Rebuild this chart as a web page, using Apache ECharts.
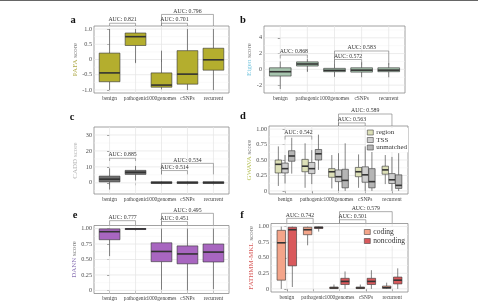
<!DOCTYPE html>
<html>
<head>
<meta charset="utf-8">
<script src="https://cdn.jsdelivr.net/npm/echarts@6/dist/echarts.min.js"></script>
<style>
html, body { margin: 0; padding: 0; background: #fff; }
#chart { width: 478px; height: 305px; }
</style>
</head>
<body>
<div id="chart"></div>
<script>
var categories = ['benign', 'pathogenic', '1000genomes', 'cSNPs', 'recurrent'];

// each row: [min, Q1, median, Q3, max] for one category
var pafaBoxes = [[-1.0, -0.73, -0.44, 0.21, 1.0], [-0.12, 0.46, 0.75, 0.87, 1.0], [-0.98, -0.91, -0.84, -0.44, 0.29], [-1.0, -0.81, -0.48, 0.29, 1.0], [-1.0, -0.35, -0.01, 0.37, 1.0]];
var eigenBoxes = [[-2.5, -0.85, -0.3, 0.2, 1.0], [-0.3, 0.42, 0.68, 0.95, 1.3], [-0.95, -0.3, -0.13, 0.13, 0.64], [-1.0, -0.35, -0.1, 0.2, 0.9], [-1.0, -0.3, -0.1, 0.2, 0.8]];
var caddBoxes = [[-4.2, 0.6, 2.3, 4.2, 9.1], [1.5, 5.3, 6.6, 7.8, 10.6], [-0.5, -0.4, 0.1, 0.7, 1.0], [-0.5, -0.4, 0.1, 0.7, 1.0], [-0.5, -0.4, 0.1, 0.7, 1.0]];
var gwavaRegion = [[0.08, 0.29, 0.43, 0.50, 0.72], [0.05, 0.31, 0.40, 0.51, 0.77], [0.04, 0.22, 0.31, 0.36, 0.58], [0.05, 0.23, 0.31, 0.38, 0.59], [0.11, 0.27, 0.34, 0.40, 0.58]];
var gwavaTss = [[0.12, 0.29, 0.36, 0.45, 0.58], [0.11, 0.28, 0.36, 0.46, 0.66], [0.0, 0.15, 0.23, 0.34, 0.61], [0.0, 0.14, 0.26, 0.39, 0.72], [0.0, 0.12, 0.18, 0.28, 0.55]];
var gwavaUnmatched = [[0.28, 0.48, 0.565, 0.65, 0.86], [0.34, 0.50, 0.60, 0.67, 0.91], [0.0, 0.05, 0.17, 0.35, 0.77], [0.0, 0.05, 0.15, 0.36, 0.74], [0.0, 0.04, 0.09, 0.26, 0.61]];
var dannBoxes = [[0.555, 0.82, 0.95, 0.995, 1.0], [0.97, 0.985, 0.995, 1.0, 1.0], [0.01, 0.465, 0.63, 0.77, 1.0], [0.0, 0.43, 0.59, 0.72, 1.0], [0.02, 0.46, 0.62, 0.75, 1.0]];
var fathmmCoding = [[0.0, 0.14, 0.74, 0.94, 1.0], [0.70, 0.87, 0.95, 0.99, 1.0], [0.0, 0.005, 0.015, 0.03, 0.07], [0.0, 0.005, 0.015, 0.03, 0.07], [0.0, 0.01, 0.02, 0.045, 0.1]];
var fathmmNoncoding = [[0.03, 0.37, 0.95, 0.99, 1.0], [0.92, 0.97, 0.985, 0.995, 1.0], [0.0, 0.07, 0.12, 0.17, 0.28], [0.0, 0.07, 0.12, 0.17, 0.30], [0.0, 0.08, 0.14, 0.19, 0.33]];

// AUC comparisons: category pairs, then the value per panel
var aucPairs = [[0, 1], [2, 4], [2, 3]];
var aucA = [0.821, 0.796, 0.701];
var aucB = [0.868, 0.583, 0.572];
var aucC = [0.885, 0.534, 0.514];
var aucD = [0.542, 0.589, 0.563];
var aucE = [0.777, 0.495, 0.451];
var aucF = [0.742, 0.579, 0.501];

var unitTicks = [0, 0.25, 0.5, 0.75, 1];
var unitMinor = [0.125, 0.375, 0.625, 0.875];

var FONT = 'Liberation Serif';
var INK = '#333';

var panels = [
    { letter: 'a', lx: 73, ly: 20, grid: { left: 94, top: 26, width: 135, height: 67 },
      min: -1.1, max: 1.1, ticks: [-1, -0.5, 0, 0.5, 1], minor: [-0.75, -0.25, 0.25, 0.75], dec: 1,
      name: 'PAFA', nameColor: '#b0ab4c', nameGap: 14,
      groups: [{ name: 'PAFA', rows: pafaBoxes, color: '#b4ae2e' }],
      auc: aucA, lineY: [1.19, 1.48, 1.19], footY: [1.1, 1.1, 1.1] },
    { letter: 'b', lx: 243, ly: 20, grid: { left: 264, top: 26, width: 141, height: 67 },
      min: -3, max: 5.5, ticks: [-2, 0, 2, 4], minor: [-1, 1, 3, 5], dec: 0,
      name: 'Eigen', nameColor: '#7cc8e0', nameGap: 9,
      groups: [{ name: 'Eigen', rows: eigenBoxes, color: '#a6c4ae' }],
      auc: aucB, lineY: [1.82, 2.33, 1.25], footY: [1.38, 0.55, 0.55] },
    { letter: 'c', lx: 72, ly: 117, grid: { left: 94, top: 127, width: 135, height: 67 },
      min: -7, max: 35, ticks: [0, 10, 20, 30], minor: [-5, 5, 15, 25], dec: 0,
      name: 'CADD', nameColor: '#b5b5b5', scoreColor: '#b5b5b5', nameGap: 15,
      groups: [{ name: 'CADD', rows: caddBoxes, color: '#707070' }],
      auc: aucC, lineY: [15.4, 12.2, 7.7], footY: [13.7, 5.3, 5.3] },
    { letter: 'd', lx: 243, ly: 116, grid: { left: 269, top: 126, width: 139, height: 68 },
      min: -0.05, max: 1.05, ticks: unitTicks, minor: unitMinor, dec: 2,
      name: 'GWAVA', nameColor: '#b8c25a', nameGap: 14,
      groups: [{ name: 'region', rows: gwavaRegion, color: '#dde0b8' },
               { name: 'TSS', rows: gwavaTss, color: '#cfcfcf' },
               { name: 'unmatched', rows: gwavaUnmatched, color: '#b5b5b5' }],
      spread: 0.25, boxW: 0.24,
      auc: aucD, lineY: [0.888, 1.244, 1.10], footY: [0.83, 1.05, 1.05] },
    { letter: 'e', lx: 75, ly: 215, grid: { left: 94, top: 225.5, width: 135, height: 68 },
      min: -0.05, max: 1.05, ticks: unitTicks, minor: unitMinor, dec: 2,
      name: 'DANN', nameColor: '#8b74b5', nameGap: 14,
      groups: [{ name: 'DANN', rows: dannBoxes, color: '#a866c0' }],
      auc: aucE, lineY: [1.128, 1.247, 1.115], footY: [1.05, 1.05, 1.05] },
    { letter: 'f', lx: 242, ly: 215, grid: { left: 271, top: 223.5, width: 137, height: 68.5 },
      min: -0.05, max: 1.05, ticks: unitTicks, minor: unitMinor, dec: 2,
      name: 'FATHMM-MKL', nameColor: '#d9605f', nameGap: 14,
      groups: [{ name: 'coding', rows: fathmmCoding, color: '#f4a58a' },
               { name: 'noncoding', rows: fathmmNoncoding, color: '#d9595c' }],
      spread: 0.21, boxW: 0.32,
      auc: aucF, lineY: [1.133, 1.24, 1.11], footY: [1.05, 1.05, 1.05] }
];

var chart = echarts.init(document.getElementById('chart'));

function boxRender(color, off, bw) {
    return function (params, api) {
        var x = api.value(0) + off;
        var lo = api.coord([x, api.value(1)]);
        var q1 = api.coord([x, api.value(2)]);
        var md = api.coord([x, api.value(3)]);
        var q3 = api.coord([x, api.value(4)]);
        var hi = api.coord([x, api.value(5)]);
        var half = api.size([bw, 0])[0] / 2;
        var thin = { stroke: INK, lineWidth: 0.6 };
        return { type: 'group', children: [
            { type: 'line', shape: { x1: lo[0], y1: lo[1], x2: q1[0], y2: q1[1] }, style: thin },
            { type: 'line', shape: { x1: q3[0], y1: q3[1], x2: hi[0], y2: hi[1] }, style: thin },
            { type: 'rect', shape: { x: q3[0] - half, y: q3[1], width: half * 2, height: Math.max(q1[1] - q3[1], 0.5) },
              style: { fill: color, stroke: INK, lineWidth: 0.6 } },
            { type: 'line', shape: { x1: md[0] - half, y1: md[1], x2: md[0] + half, y2: md[1] },
              style: { stroke: INK, lineWidth: 1.6 } }
        ] };
    };
}

var grids = [], xAxes = [], yAxes = [], series = [], texts = [];

panels.forEach(function (p, pi) {
    grids.push(Object.assign({ show: true, borderColor: '#8a8a8a', borderWidth: 0.8, outerBoundsMode: 'none' }, p.grid));

    xAxes.push({
        gridIndex: pi, type: 'value', min: -0.6, max: 4.6,
        axisLine: { show: false }, splitLine: { show: false },
        axisTick: { customValues: [0, 1, 2, 3, 4], length: 2.5, lineStyle: { color: INK, width: 0.6 } },
        axisLabel: { customValues: [0, 1, 2, 3, 4], formatter: function (v) { return categories[v]; },
                     fontFamily: FONT, fontSize: 5.4, color: '#444', margin: 3 }
    });

    yAxes.push({
        gridIndex: pi, type: 'value', min: p.min, max: p.max,
        name: '{n|' + p.name + '} {s|score}', nameLocation: 'middle', nameGap: p.nameGap,
        nameTextStyle: { fontFamily: FONT, fontSize: 7,
            rich: { n: { color: p.nameColor, fontFamily: FONT, fontSize: 7 },
                    s: { color: p.scoreColor || '#777', fontFamily: FONT, fontSize: 7 } } },
        axisLine: { show: false }, splitLine: { show: false },
        axisTick: { customValues: p.ticks, length: 2.5, lineStyle: { color: INK, width: 0.6 } },
        axisLabel: { customValues: p.ticks, fontFamily: FONT, fontSize: 6.2, color: '#4d4d4d', margin: 2,
                     formatter: function (v) { return v === 0 ? '0' : v.toFixed(p.dec); } }
    });

    // background grid lines (theme_bw style)
    var lines = p.ticks.map(function (v) { return [v, 1]; })
        .concat(p.minor.map(function (v) { return [v, 0]; }))
        .concat(categories.map(function (c, i) { return [i, 2]; }));
    series.push({
        type: 'custom', xAxisIndex: pi, yAxisIndex: pi, silent: true, z: 1,
        data: lines,
        renderItem: function (params, api) {
            var v = api.value(0), k = api.value(1), a, b;
            if (k === 2) { a = api.coord([v, p.min]); b = api.coord([v, p.max]); }
            else { a = api.coord([-0.6, v]); b = api.coord([4.6, v]); }
            return { type: 'line', shape: { x1: a[0], y1: a[1], x2: b[0], y2: b[1] },
                     style: { stroke: k === 0 ? '#f3f3f3' : '#e4e4e4', lineWidth: k === 0 ? 0.5 : 0.7 } };
        }
    });

    var n = p.groups.length;
    p.groups.forEach(function (g, gi) {
        var off = n > 1 ? (gi - (n - 1) / 2) * p.spread * (n === 2 ? 2 : 1) : 0;
        var bw = n > 1 ? p.boxW : 0.8;
        series.push({
            type: 'custom', name: g.name, xAxisIndex: pi, yAxisIndex: pi, silent: true, z: 3,
            itemStyle: { color: g.color },
            data: g.rows.map(function (r, i) { return [i].concat(r); }),
            renderItem: boxRender(g.color, off, bw)
        });
    });

    // AUC brackets
    series.push({
        type: 'custom', xAxisIndex: pi, yAxisIndex: pi, silent: true, z: 4, clip: false,
        data: aucPairs.map(function (pr, i) { return [pr[0], pr[1], p.lineY[i], p.footY[i]]; }),
        renderItem: function (params, api) {
            var x1 = api.value(0), x2 = api.value(1), yl = api.value(2), yb = api.value(3);
            var a = api.coord([x1, yb]), b = api.coord([x1, yl]), c = api.coord([x2, yl]), d = api.coord([x2, yb]);
            return { type: 'group', children: [
                { type: 'polyline', shape: { points: [a, b, c, d] }, style: { stroke: '#777', lineWidth: 0.6, fill: null } },
                { type: 'text', x: (b[0] + c[0]) / 2, y: b[1] - 0.3,
                  style: { text: 'AUC: ' + p.auc[params.dataIndex].toFixed(3), fill: '#333',
                           font: '5.8px "' + FONT + '"', textAlign: 'center', textVerticalAlign: 'bottom' } }
            ] };
        }
    });

    texts.push({ type: 'text', x: p.lx, y: p.ly,
        style: { text: p.letter, fill: '#111', font: 'bold 10.5px "' + FONT + '"', textAlign: 'center', textVerticalAlign: 'middle' } });
});

texts.push({ type: 'line', shape: { x1: 0, y1: 0.5, x2: 478, y2: 0.5 }, style: { stroke: '#666', lineWidth: 1 } });

function legendFor(names, colors, left, top, size, gap) {
    return {
        data: names.map(function (nm, i) { return { name: nm, itemStyle: { color: colors[i], borderColor: '#444', borderWidth: 0.6 } }; }),
        orient: 'vertical', left: left, top: top, selectedMode: false,
        icon: 'rect', itemWidth: 6, itemHeight: 5, itemGap: gap, padding: 1,
        backgroundColor: '#fff',
        textStyle: { fontFamily: FONT, fontSize: size, color: '#333', padding: [0, 0, 0, -2] }
    };
}

var option = {
    animation: false,
    backgroundColor: '#fff',
    grid: grids,
    xAxis: xAxes,
    yAxis: yAxes,
    legend: [
        legendFor(['region', 'TSS', 'unmatched'], ['#dde0b8', '#cfcfcf', '#b5b5b5'], 366, 128, 7, 0.5),
        legendFor(['coding', 'noncoding'], ['#f4a58a', '#d9595c'], 363, 227, 7.5, 1)
    ],
    graphic: texts,
    series: series
};

chart.setOption(option);
</script>
</body>
</html>
